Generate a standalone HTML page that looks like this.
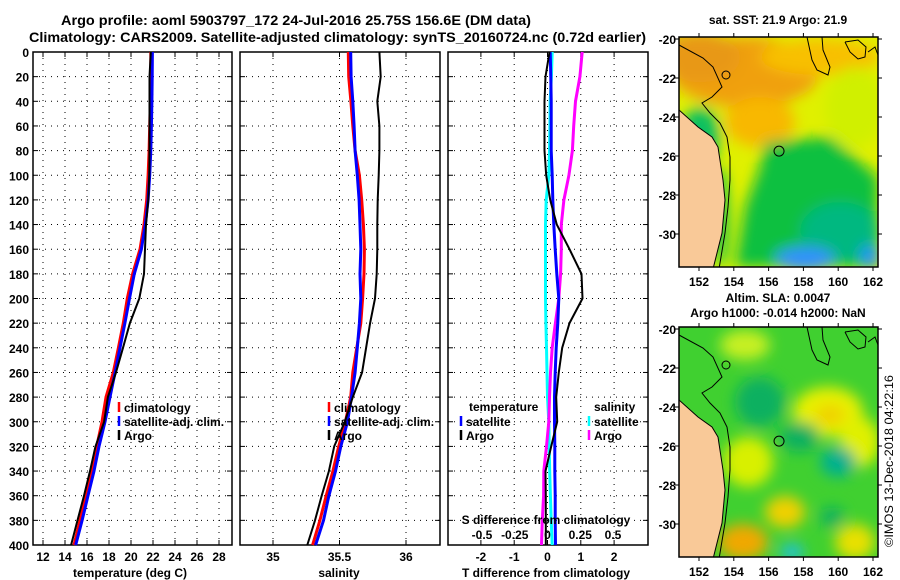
<!DOCTYPE html>
<html><head><meta charset="utf-8">
<style>
html,body{margin:0;padding:0;background:#fff;}
svg{display:block;font-family:"Liberation Sans",sans-serif;font-weight:bold;}
</style></head>
<body>
<svg id="fig" width="900" height="580" viewBox="0 0 900 580" xmlns="http://www.w3.org/2000/svg">
<defs>
<filter id="blur6" x="-30%" y="-30%" width="160%" height="160%"><feGaussianBlur stdDeviation="7"/></filter>
<filter id="blur3" x="-30%" y="-30%" width="160%" height="160%"><feGaussianBlur stdDeviation="3"/></filter>
<clipPath id="clipTop"><rect x="679" y="37" width="199" height="230"/></clipPath>
<clipPath id="clipBot"><rect x="679" y="327" width="199" height="230"/></clipPath>
</defs>
<text x="61" y="25" font-size="14" textLength="470" lengthAdjust="spacingAndGlyphs">Argo profile: aoml 5903797_172 24-Jul-2016 25.75S 156.6E (DM data)</text>
<text x="29" y="42" font-size="14" textLength="617" lengthAdjust="spacingAndGlyphs">Climatology: CARS2009. Satellite-adjusted climatology: synTS_20160724.nc (0.72d earlier)</text>
<g id="panels"></g>
<g id="maps"></g>
<text transform="translate(893,461) rotate(-90)" text-anchor="middle" font-size="12" font-weight="normal" textLength="172" lengthAdjust="spacingAndGlyphs">©IMOS 13-Dec-2018 04:22:16</text>
</svg>
<script>
// ---------- data ----------
const depths = [0,20,40,60,80,100,120,140,160,180,200,220,240,260,280,300,320,340,360,380,400];
const tempClim = [21.8,21.8,21.75,21.7,21.65,21.55,21.43,21.18,20.82,20.15,19.66,19.3,18.85,18.39,17.73,17.36,16.88,16.45,15.9,15.36,14.82];
const tempSat  = [21.95,21.93,21.9,21.85,21.8,21.7,21.55,21.3,20.95,20.3,19.86,19.45,19.0,18.55,18.09,17.64,17.09,16.64,16.09,15.55,14.97];
const tempArgo = [21.8,21.68,21.68,21.68,21.68,21.66,21.57,21.36,21.27,21.18,20.75,19.9,19.27,18.64,17.9,17.55,16.77,16.27,15.73,15.14,14.55];
const salClim = [35.566,35.569,35.586,35.60,35.617,35.65,35.667,35.68,35.687,35.684,35.674,35.66,35.63,35.60,35.584,35.544,35.494,35.45,35.40,35.353,35.298];
const salSat  = [35.584,35.587,35.60,35.61,35.617,35.634,35.647,35.654,35.66,35.654,35.66,35.65,35.634,35.617,35.59,35.56,35.51,35.47,35.42,35.38,35.32];
const salArgo = [35.80,35.81,35.784,35.80,35.80,35.795,35.787,35.784,35.784,35.78,35.767,35.73,35.70,35.67,35.60,35.54,35.46,35.42,35.366,35.316,35.258];
const dTSat  = [0.08,0.1,0.11,0.11,0.11,0.14,0.16,0.19,0.23,0.28,0.34,0.31,0.26,0.23,0.21,0.21,0.22,0.22,0.23,0.23,0.24];
const dTArgo = [0.06,-0.06,-0.09,-0.09,-0.09,-0.04,0.08,0.28,0.66,1.02,1.05,0.66,0.44,0.34,0.26,0.29,0.11,-0.06,-0.05,-0.05,-0.05];
const dSSat  = [0.036,0.03,0.02,0.018,0.015,0.01,-0.01,-0.015,-0.015,-0.015,-0.015,-0.012,-0.008,-0.004,0.0,0.01,0.013,0.017,0.022,0.028,0.036];
const dSArgo = [0.265,0.247,0.214,0.2,0.19,0.163,0.125,0.105,0.105,0.1,0.086,0.06,0.036,0.023,0.015,0.01,-0.008,-0.028,-0.03,-0.04,-0.046];
const depthTicks = [0,20,40,60,80,100,120,140,160,180,200,220,240,260,280,300,320,340,360,380,400];
const tempTicks = [12,14,16,18,20,22,24,26,28];
const salTicks = [35,35.5,36];
const dTTicks = [-2,-1,0,1,2];
const dSTicks = [-0.5,-0.25,0,0.25,0.5];
const dSTickLabels = ["-0.5","-0.25","0","0.25","0.5"];

const NS="http://www.w3.org/2000/svg";
function mk(tag, attrs, parent){const e=document.createElementNS(NS,tag);for(const k in attrs)e.setAttribute(k,attrs[k]);if(parent)parent.appendChild(e);return e;}
const yTop=52, yBot=545;
const yScale = d => yTop + d*(yBot-yTop)/400;

const panels = document.getElementById('panels');
function panel(name, x0, x1, xScale, xTicks, xTickLabels){
  const g = mk('g',{},panels);
  
  
  depthTicks.forEach(d=>{
    const y=yScale(d);
    if(d>0&&d<400){const l=mk('line',{x1:x0,x2:x1,y1:y,y2:y,stroke:'#000','stroke-width':1,'stroke-dasharray':'1,5'},g);
      
      }
    mk('line',{x1:x0,x2:x0+5,y1:y,y2:y,stroke:'#000'},g);
    mk('line',{x1:x1-5,x2:x1,y1:y,y2:y,stroke:'#000'},g);
  });
  xTicks.forEach((v,i)=>{
    const x=xScale(v);
    const l=mk('line',{x1:x,x2:x,y1:yTop,y2:yBot,stroke:'#000','stroke-width':1,'stroke-dasharray':'1,5'},g);
    
    
    mk('line',{x1:x,x2:x,y1:yBot-5,y2:yBot,stroke:'#000'},g);
    mk('line',{x1:x,x2:x,y1:yTop,y2:yTop+5,stroke:'#000'},g);
    const t=mk('text',{x:x,y:561,'text-anchor':'middle','font-size':12},g);
    
    
    t.textContent = xTickLabels ? xTickLabels[i] : String(v);
  });
  const fr=mk('rect',{x:x0,y:yTop,width:x1-x0,height:yBot-yTop,fill:'none',stroke:'#000','stroke-width':1.5},g);
  
  
  return g;
}
function series(g, name, vals, xScale, color, w){
  let pts = depths.map((d,i)=>xScale(vals[i]).toFixed(1)+','+yScale(d).toFixed(1)).join(' ');
  const p=mk('polyline',{points:pts,fill:'none',stroke:color,'stroke-width':w,'stroke-linejoin':'round'},g);
  
  
}
function label(g,name,x,y,txt,size,anchor){
  const t=mk('text',{x:x,y:y,'font-size':size||12,'text-anchor':anchor||'start'},g);
  
  
  t.textContent=txt;return t;
}
function legendEntry(g,x,y,color,txt){
  const m=mk('line',{x1:x,x2:x,y1:y-10,y2:y,stroke:color,'stroke-width':2.5},g);
  
  
  label(g,'legend-entry',x+5,y,txt,12);
}

// Panel 1: temperature
const xT = v => 43 + (v-12)*11;
const p1 = panel('temperature-panel',33,232,xT,tempTicks);
depthTicks.forEach(d=>label(p1,'y-tick-label',29,yScale(d)+5,String(d),12,'end'));
series(p1,'temp-climatology-line',tempClim,xT,'#ff0000',3);
series(p1,'temp-satellite-line',tempSat,xT,'#0000ff',3);
series(p1,'temp-argo-line',tempArgo,xT,'#000000',2);
legendEntry(p1,119,412,'#ff0000','climatology');
legendEntry(p1,119,426,'#0000ff','satellite-adj. clim.');
legendEntry(p1,119,440,'#000000','Argo');
label(p1,'x-axis-title',130,577,'temperature (deg C)',12,'middle');

// Panel 2: salinity
const xS = v => 273 + (v-35)*133;
const p2 = panel('salinity-panel',240,440,xS,salTicks);
series(p2,'sal-climatology-line',salClim,xS,'#ff0000',3);
series(p2,'sal-satellite-line',salSat,xS,'#0000ff',3);
series(p2,'sal-argo-line',salArgo,xS,'#000000',2);
legendEntry(p2,329,412,'#ff0000','climatology');
legendEntry(p2,329,426,'#0000ff','satellite-adj. clim.');
legendEntry(p2,329,440,'#000000','Argo');
label(p2,'x-axis-title',339,577,'salinity',12,'middle');

// Panel 3: differences
const xdT = v => 547.5 + v*33.3;
const xdS = v => 547.5 + v*131;
const p3 = panel('difference-panel',448,648,xdT,dTTicks);
series(p3,'dS-satellite-line',dSSat,xdS,'#00ffff',3);
series(p3,'dS-argo-line',dSArgo,xdS,'#ff00ff',3);
series(p3,'dT-satellite-line',dTSat,xdT,'#0000ff',3);
series(p3,'dT-argo-line',dTArgo,xdT,'#000000',2);
label(p3,'legend-title-temperature',469,411,'temperature',12);
legendEntry(p3,461,426,'#0000ff','satellite');
legendEntry(p3,461,440,'#000000','Argo');
label(p3,'legend-title-salinity',594,411,'salinity',12);
legendEntry(p3,589,426,'#00ffff','satellite');
legendEntry(p3,589,440,'#ff00ff','Argo');
label(p3,'s-axis-title',546,524,'S difference from climatology',12,'middle');
dSTicks.forEach((v,i)=>label(p3,'s-tick-label',xdS(v),539,dSTickLabels[i],12,'middle'));
label(p3,'x-axis-title',546,577,'T difference from climatology',12,'middle');

// ---------- maps ----------
const maps=document.getElementById('maps');
const lonTicks=[152,154,156,158,160,162];
const latTicks=[-20,-22,-24,-26,-28,-30];
function buildMap(name, top, clipId, blobs, base){
  const g=mk('g',{},maps);
  
  
  const X = lon => 699 + (lon-152)*17.4;
  const Y = lat => top+2 + (-20-lat)*19.5;
  const field=mk('g',{'clip-path':'url(#'+clipId+')'},g);
  
  
  mk('rect',{x:679,y:top,width:199,height:230,fill:base},field);
  const bg=mk('g',{filter:'url(#blur6)'},field);
  blobs.forEach(b=>{
    if(b.pts) mk('polygon',{points:b.pts.map(p=>p[0]+','+(top+p[1])).join(' '),fill:b.c},bg);
    else mk('ellipse',{cx:b.x,cy:top+b.y,rx:b.rx,ry:b.ry,fill:b.c},bg);
  });
  // land
  const land=[[679,73],[698,90],[712,100],[718,110],[723,143],[725,163],[722,196],[713,232],[679,232]];
  const lp=mk('polygon',{points:land.map(p=>p[0]+','+(top+p[1])).join(' '),fill:'#f9c998',stroke:'#000','stroke-width':1},field);
  
  
  const c1=[[679,8],[703,21],[713,30],[722,50],[712,60],[702,66],[710,76],[720,86],[727,100],[730,120],[730,143],[728,170],[725,196],[719,232]];
  const c2=[[807,0],[812,23],[817,33],[828,38],[830,30],[823,13],[822,0]];
  const c3=[[845,5],[858,3],[866,10],[865,20],[858,22],[850,15],[845,5]];
  const c4=[[868,15],[875,10],[878,18]];
  [c1,c2,c3,c4].forEach(c=>{const pl=mk('polyline',{points:c.map(p=>p[0]+','+(top+p[1])).join(' '),fill:'none',stroke:'#000','stroke-width':1},field);
    
    });
  mk('circle',{cx:726,cy:top+38,r:4,fill:'none',stroke:'#000'},field);
  const pc=mk('circle',{cx:X(156.6),cy:Y(-25.75),r:5,fill:'none',stroke:'#000','stroke-width':1},g);
  
  
  mk('rect',{x:679,y:top,width:199,height:230,fill:'none',stroke:'#000','stroke-width':1.5},g);
  lonTicks.forEach(l=>{const x=X(l);mk('line',{x1:x,x2:x,y1:top,y2:top-4,stroke:'#000'},g);
    mk('line',{x1:x,x2:x,y1:top+230,y2:top+234,stroke:'#000'},g);
    label(g,'lon-tick-label',x,top+249,String(l),12,'middle');});
  latTicks.forEach(l=>{const y=Y(l);mk('line',{x1:679,x2:675,y1:y,y2:y,stroke:'#000'},g);
    mk('line',{x1:878,x2:882,y1:y,y2:y,stroke:'#000'},g);
    label(g,'lat-tick-label',676,y+5,String(l),12,'end');});
  return g;
}
const sstBlobs=[
  {x:745,y:35,rx:75,ry:35,c:'#f0a010'},
  {x:700,y:20,rx:40,ry:25,c:'#e89818'},
  {x:820,y:20,rx:60,ry:18,c:'#f8c000'},
  {x:760,y:85,rx:35,ry:25,c:'#f8b800'},
  {x:855,y:70,rx:30,ry:40,c:'#d0f000'},
  {pts:[[765,105],[830,100],[878,140],[878,230],[735,230],[745,170],[760,130]],c:'#10c040'},
  {x:820,y:150,rx:50,ry:25,c:'#10c040'},
  {x:840,y:195,rx:40,ry:30,c:'#00b880'},
  {x:805,y:222,rx:30,ry:12,c:'#3090ff'},
  {x:870,y:220,rx:10,ry:12,c:'#2090ff'},
  {x:700,y:100,rx:20,ry:30,c:'#10c060'},
  {x:720,y:180,rx:8,ry:50,c:'#10c050'}
];
buildMap('sst-map',37,'clipTop',sstBlobs,'#e0f000');
label(maps,'sst-map-title',778,24,'sat. SST: 21.9 Argo: 21.9',12,'middle');

const slaBlobs=[
  {x:745,y:18,rx:25,ry:15,c:'#c8f020'},
  {x:760,y:75,rx:25,ry:25,c:'#10b060'},
  {x:828,y:85,rx:35,ry:25,c:'#e8f000'},
  {x:830,y:88,rx:15,ry:10,c:'#f0d000'},
  {x:860,y:115,rx:20,ry:25,c:'#e0f000'},
  {x:800,y:110,rx:20,ry:15,c:'#10b060'},
  {x:748,y:135,rx:25,ry:25,c:'#d8f000'},
  {x:838,y:135,rx:18,ry:15,c:'#00b090'},
  {x:785,y:185,rx:20,ry:16,c:'#f0d000'},
  {x:743,y:215,rx:25,ry:18,c:'#f0a800'},
  {x:855,y:215,rx:20,ry:18,c:'#e8e000'},
  {x:792,y:225,rx:12,ry:8,c:'#20c0e0'},
  {x:832,y:190,rx:12,ry:10,c:'#10b060'}
];
buildMap('sla-map',327,'clipBot',slaBlobs,'#40d030');
label(maps,'sla-map-title',778,302,'Altim. SLA: 0.0047',12,'middle');
label(maps,'sla-map-subtitle',778,317,'Argo h1000: -0.014 h2000: NaN',12,'middle');
</script>
</body></html>
